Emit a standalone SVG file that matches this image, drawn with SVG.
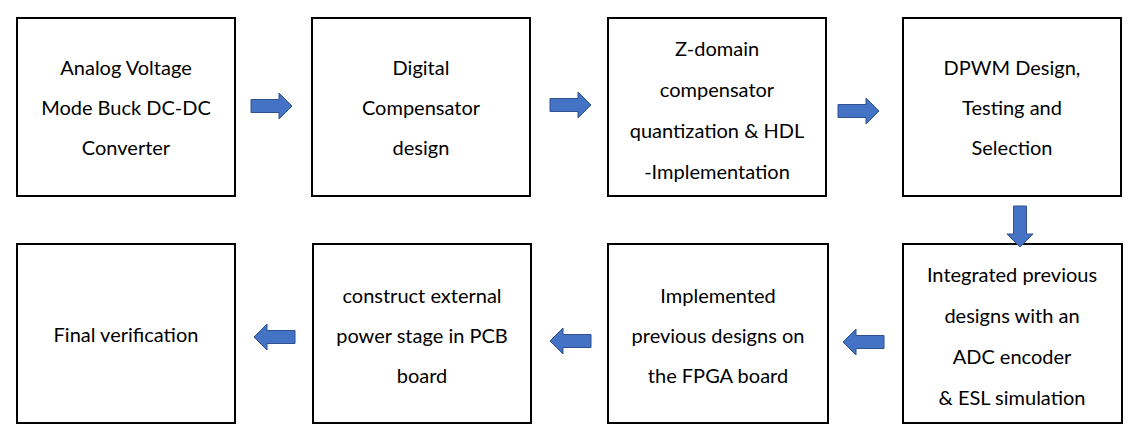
<svg xmlns="http://www.w3.org/2000/svg" width="1136" height="430" viewBox="0 0 1136 430">
<defs>
<style>
.box{fill:#fff;stroke:#000;stroke-width:2}
.t{font-family:Lato,"Open Sans",sans-serif;font-size:20px;fill:#000;text-anchor:middle}
.ar{fill:#4472C4;stroke:#2F528F;stroke-width:1}
</style>
<path id="arR" class="ar" d="M0,-6.5 H28 V-13 L41,0 L28,13 V6.5 H0 Z"/>
</defs>
<rect width="1136" height="430" fill="#fff"/>
<g id="n1"><rect class="box" x="17" y="18" width="218" height="178"/>
<text class="t" x="126" y="75">Analog Voltage</text><text class="t" x="126" y="115">Mode Buck DC-DC</text><text class="t" x="126" y="155">Converter</text></g>
<g id="n2"><rect class="box" x="312" y="18" width="218" height="178"/>
<text class="t" x="421" y="75">Digital</text><text class="t" x="421" y="115">Compensator</text><text class="t" x="421" y="155">design</text></g>
<g id="n3"><rect class="box" x="608" y="18" width="218" height="178"/>
<text class="t" x="717" y="56">Z-domain</text><text class="t" x="717" y="97">compensator</text><text class="t" x="717" y="138">quantization &amp; HDL</text><text class="t" x="717" y="179">-Implementation</text></g>
<g id="n4"><rect class="box" x="903" y="18" width="218" height="178"/>
<text class="t" x="1012" y="75">DPWM Design,</text><text class="t" x="1012" y="115">Testing and</text><text class="t" x="1012" y="155">Selection</text></g>
<g id="n5"><rect class="box" x="903" y="244" width="219" height="179"/>
<text class="t" x="1012" y="282">Integrated previous</text><text class="t" x="1012" y="323">designs with an</text><text class="t" x="1012" y="364">ADC encoder</text><text class="t" x="1012" y="405">&amp; ESL simulation</text></g>
<g id="n6"><rect class="box" x="608" y="244" width="220" height="179"/>
<text class="t" x="718" y="303">Implemented</text><text class="t" x="718" y="343">previous designs on</text><text class="t" x="718" y="383">the FPGA board</text></g>
<g id="n7"><rect class="box" x="313" y="244" width="218" height="179"/>
<text class="t" x="422" y="303">construct external</text><text class="t" x="422" y="343">power stage in PCB</text><text class="t" x="422" y="383">board</text></g>
<g id="n8"><rect class="box" x="17" y="244" width="218" height="179"/>
<text class="t" x="126" y="342">Final verification</text></g>
<g id="connectors">
<use href="#arR" x="251" y="106"/>
<use href="#arR" x="550" y="105"/>
<use href="#arR" x="838" y="111"/>
<use href="#arR" transform="translate(1020,206) rotate(90)"/>
<use href="#arR" transform="translate(884,342) rotate(180)"/>
<use href="#arR" transform="translate(591,341) rotate(180)"/>
<use href="#arR" transform="translate(295,337) rotate(180)"/>
</g>
</svg>
